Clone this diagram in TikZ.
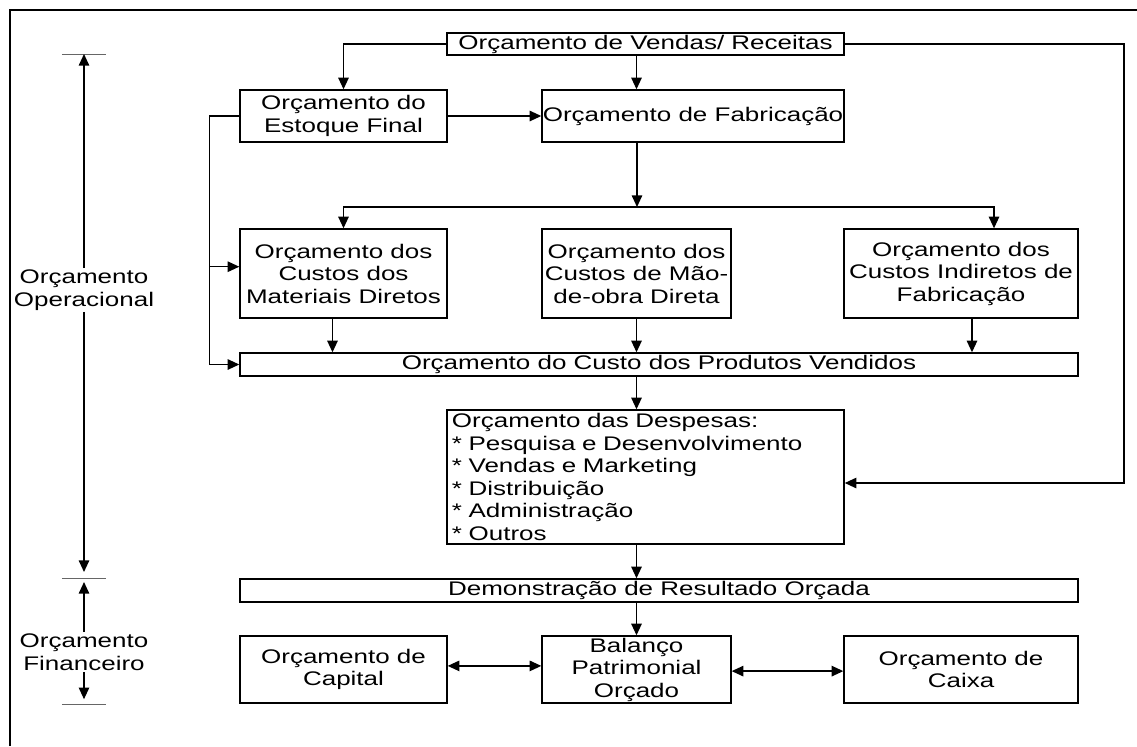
\documentclass[tikz,border=0pt]{standalone}
\usepackage{fontspec}
\setmainfont{Liberation Sans}[FakeStretch=1.32]
\usetikzlibrary{arrows.meta}

\tikzset{
  box/.style 2 args={draw, line width=1pt, align=center, inner sep=0pt,
    minimum width=#1*0.025cm, minimum height=#2*0.025cm},
  listbox/.style={draw, line width=1pt, align=left, text width=9.675cm,
    inner xsep=0.125cm, inner ysep=0pt, minimum height=134*0.025cm},
  arr/.style={line width=1pt, -{Triangle[length=0.29cm,width=0.26cm]}},
  dblarr/.style={line width=1pt, {Triangle[length=0.29cm,width=0.26cm]}-{Triangle[length=0.29cm,width=0.26cm]}},
  tickline/.style={line width=0.6pt, black!60},
}

\begin{document}
\begin{tikzpicture}[x=0.025cm, y=-0.025cm, font=\fontsize{14}{16}\selectfont]
\useasboundingbox (0,0) rectangle (1137,746);
\draw[line width=1.1pt] (10,746) -- (10,10) -- (1137,10); % frame

\node[box={397}{22}] (vendas) at (645.5,44) {Orçamento de Vendas/ Receitas}; % vendas
\node[box={207}{52}] (estoque) at (343.5,116) {Orçamento do\\Estoque Final}; % estoque
\node[box={302}{52}] (fabric) at (693,116) {Orçamento de Fabricação}; % fabric
\node[box={207}{89}] (matdir) at (343.5,273.5) {Orçamento dos\\Custos dos\\Materiais Diretos}; % matdir
\node[box={189}{89}] (maoobra) at (636.5,273.5) {Orçamento dos\\Custos de Mão-\\de-obra Direta}; % maoobra
\node[box={234}{89}] (indir) at (961,273.5) {Orçamento dos\\Custos Indiretos de\\Fabricação}; % indir
\node[box={838}{23}] (cpv) at (659,364.5) {Orçamento do Custo dos Produtos Vendidos}; % cpv
\node[listbox] (despesas) at (645.5,477) {Orçamento das Despesas:\\{*} Pesquisa e Desenvolvimento\\{*} Vendas e Marketing\\{*} Distribuição\\{*} Administração\\{*} Outros}; % despesas
\node[box={838}{23}] (dre) at (659,590.5) {Demonstração de Resultado Orçada}; % dre
\node[box={207}{67}] (capital) at (343.5,669.5) {Orçamento de\\Capital}; % capital
\node[box={189}{67}] (balanco) at (636.5,669.5) {Balanço\\Patrimonial\\Orçado}; % balanco
\node[box={234}{67}] (caixa) at (961,669.5) {Orçamento de\\Caixa}; % caixa

\coordinate (split) at (637,207); % split
\coordinate (rside) at (1124,44); % rside

\draw[arr] (vendas.west) -| (estoque.north); % vendas-estoque
\draw[arr] (vendas.south -| balanco) -- (fabric.north -| balanco); % vendas-fabric
\draw[arr] (vendas.east) -- (rside) |- ([yshift=-0.15cm]despesas.east); % vendas-despesas
\draw[arr] (estoque.east) -- (fabric.west); % estoque-fabric
\draw[arr] (fabric.south -| split) -- (split); % fabric-split
\draw[arr] (split) -| (matdir.north); % split-matdir
\draw[arr] (split) -| ([xshift=0.825cm]indir.north); % split-indir
\draw[arr] (estoque.west) -- ++(-30,0) |- (cpv.west); % estoque-cpv
\draw[arr] ([xshift=-0.75cm,yshift=0.17cm]matdir.west) -- ([yshift=0.17cm]matdir.west); % estoque-matdir
\draw[arr] ([xshift=-0.275cm]matdir.south) -- ([xshift=-0.275cm]matdir.south |- cpv.north); % matdir-cpv
\draw[arr] (maoobra.south) -- (maoobra.south |- cpv.north); % maoobra-cpv
\draw[arr] ([xshift=0.275cm]indir.south) -- ([xshift=0.275cm]indir.south |- cpv.north); % indir-cpv
\draw[arr] (cpv.south -| balanco) -- (despesas.north -| balanco); % cpv-despesas
\draw[arr] (despesas.south -| balanco) -- (dre.north -| balanco); % despesas-dre
\draw[arr] (dre.south -| balanco) -- (balanco.north); % dre-balanco
\draw[dblarr] ([yshift=0.09cm]capital.east) -- ([yshift=0.09cm]capital.east -| balanco.west); % capital-balanco
\draw[dblarr] ([yshift=-0.04cm]balanco.east) -- ([yshift=-0.04cm]balanco.east -| caixa.west); % balanco-caixa

\node[align=center, inner sep=1pt] (oper) at (84,290) {Orçamento\\Operacional}; % oper
\node[align=center, inner sep=1pt] (finan) at (84,652) {Orçamento\\Financeiro}; % finan
\coordinate (tka) at (84,54); % tka
\coordinate (tkb) at (84,578); % tkb
\coordinate (tkc) at (84,704); % tkc
\foreach \t in {tka,tkb,tkc}
  \draw[tickline] ([xshift=-0.55cm]\t) -- ([xshift=0.55cm]\t); % tick
\draw[arr] (oper.north) -- (tka); % oper-up
\draw[arr] (oper.south) -- ([yshift=0.15cm]tkb); % oper-down
\draw[arr] (finan.north) -- ([yshift=-0.1cm]tkb); % finan-up
\draw[arr] (finan.south) -- ([yshift=0.12cm]tkc); % finan-down
\end{tikzpicture}
\end{document}
